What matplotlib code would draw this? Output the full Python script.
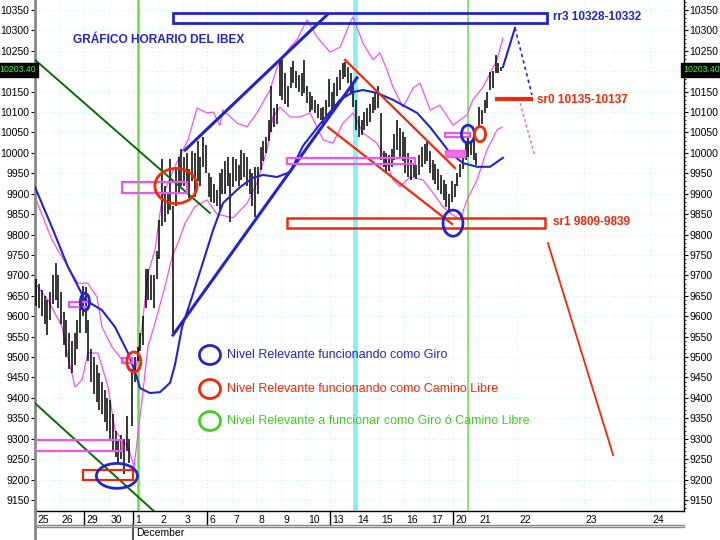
import matplotlib
matplotlib.use('Agg')
import matplotlib.pyplot as plt
import matplotlib.transforms as mtransforms
from matplotlib.patches import Ellipse, Rectangle
from matplotlib.ticker import MultipleLocator, FuncFormatter

NARROW = ['Liberation Sans Narrow', 'Liberation Sans', 'DejaVu Sans']
REG = ['Liberation Sans', 'DejaVu Sans']

# sessions (9 hourly bars each)
sessions = ['25', '26', '29', '30', '1', '2', '3', '6', '7', '8', '9', '10',
            '13', '14', '15', '16', '17', '20', '21']
future_days = ['22', '23', '24']

highs = [
    [9690, 9680, 9665, 9650, 9640, 9660, 9700, 9730, 9700],
    [9660, 9610, 9590, 9560, 9540, 9560, 9590, 9640, 9675],
    [9672, 9590, 9520, 9500, 9480, 9460, 9440, 9420, 9400],
    [9395, 9360, 9320, 9300, 9310, 9300, 9355, 9300, 9470],
    [9500, 9525, 9560, 9600, 9715, 9715, 9700, 9700, 9760],
    [9835, 9985, 9920, 9900, 9985, 9870, 9960, 9990, 10010],
    [9990, 10000, 9960, 10005, 10000, 10030, 9990, 10040, 10020],
    [9950, 9940, 9925, 9910, 9950, 9960, 9980, 9990, 9950],
    [9990, 9985, 9970, 10006, 10000, 9990, 9960, 9950, 9965],
    [9965, 10014, 10030, 10040, 10080, 10163, 10110, 10120, 10228],
    [10228, 10195, 10163, 10210, 10225, 10200, 10190, 10195, 10228],
    [10163, 10150, 10140, 10130, 10120, 10110, 10112, 10130, 10180],
    [10150, 10170, 10185, 10203, 10220, 10223, 10210, 10195, 10170],
    [10130, 10090, 10080, 10100, 10110, 10120, 10138, 10150, 10163],
    [10097, 10005, 10000, 9995, 10010, 10047, 10080, 10060, 10050],
    [10040, 10000, 9982, 9975, 9970, 9995, 10014, 10022, 10030],
    [10005, 9982, 9974, 9960, 9945, 9933, 9925, 9900, 9930],
    [9925, 9950, 9974, 10000, 10030, 10040, 10030, 10040, 10000],
    [10112, 10105, 10130, 10150, 10198, 10200, 10240, 10220, 10210],
]
lows = [
    [9625, 9620, 9600, 9580, 9555, 9590, 9630, 9640, 9620],
    [9580, 9530, 9500, 9470, 9460, 9480, 9520, 9560, 9600],
    [9560, 9490, 9440, 9410, 9390, 9370, 9360, 9340, 9320],
    [9300, 9270, 9255, 9240, 9250, 9214, 9270, 9240, 9330],
    [9440, 9490, 9515, 9530, 9620, 9640, 9640, 9620, 9690],
    [9740, 9820, 9830, 9850, 9860, 9560, 9870, 9900, 9920],
    [9920, 9900, 9890, 9930, 9893, 9930, 9920, 9966, 9950],
    [9893, 9880, 9877, 9870, 9860, 9900, 9900, 9920, 9830],
    [9917, 9930, 9920, 9933, 9940, 9920, 9900, 9870, 9843],
    [9900, 9958, 9980, 10000, 10030, 10050, 10063, 10070, 10140],
    [10130, 10120, 10112, 10160, 10170, 10160, 10150, 10140, 10147],
    [10122, 10100, 10105, 10097, 10085, 10080, 10063, 10090, 10112],
    [10105, 10110, 10140, 10154, 10180, 10185, 10170, 10147, 10112],
    [10055, 10040, 10045, 10055, 10065, 10075, 10097, 10105, 10110],
    [9982, 9966, 9950, 9955, 9965, 9982, 10006, 9990, 9980],
    [9950, 9941, 9933, 9940, 9935, 9945, 9966, 9974, 9980],
    [9950, 9933, 9925, 9910, 9900, 9884, 9867, 9860, 9880],
    [9893, 9920, 9941, 9960, 9982, 9990, 9995, 9982, 9970],
    [10063, 10070, 10097, 10110, 10154, 10160, 10196, 10195, 10200],
]
last_price = 10203.40

# moving average (session position, price)
ma_day = [0, 0.69, 1.34, 2.03, 2.72, 3.25, 3.78, 4.07, 4.27, 4.67, 5.08, 5.49,
          5.69, 5.98, 6.38, 6.79, 7.24, 7.64, 8.33, 8.86, 9.27, 9.84, 10.37,
          10.89, 11.59, 12.40, 12.93, 13.33, 13.90, 14.55, 15.53, 16.06, 16.46,
          16.87, 17.40, 17.97, 18.50, 18.90, 19.02]
ma_val = [9916, 9818, 9721, 9640, 9615, 9574, 9510, 9463, 9424, 9412, 9414, 9437,
          9481, 9574, 9647, 9725, 9811, 9877, 9916, 9939, 9946, 9941, 9953,
          10017, 10071, 10130, 10149, 10154, 10147, 10130, 10098, 10063, 10032,
          10000, 9975, 9966, 9966, 9983, 9988]

# bollinger-like bands
up_day = [0, 0.69, 0.93, 1.34, 1.75, 2.15, 2.52, 2.72, 3.13, 3.54, 3.94, 4.07,
          4.35, 4.59, 4.88, 5.0, 5.16, 5.28, 5.81, 6.22, 6.59, 6.99, 7.24, 7.52,
          7.64, 8.21, 8.62, 9.02, 9.55, 9.84, 10.08, 10.37, 10.65, 11.06, 11.46,
          11.99, 12.40, 12.80, 12.93, 13.33, 13.74, 14.02, 14.31, 14.55, 14.96,
          15.37, 15.65, 16.06, 16.46, 16.99, 17.56, 17.80, 18.21, 18.78, 19.02]
up_val = [9892, 9787, 9762, 9721, 9681, 9681, 9647, 9574, 9525, 9493, 9468, 9461,
          9574, 9706, 9762, 9818, 9885, 9909, 9983, 10032, 10110, 10098, 10100, 10068,
          10105, 10073, 10064, 10098, 10154, 10210, 10235, 10259, 10277, 10326, 10284,
          10247, 10259, 10318, 10333, 10269, 10228, 10245, 10203, 10161, 10112,
          10159, 10171, 10105, 10117, 10068, 10093, 10130, 10161, 10228, 10281]
lo_day = [0, 0.53, 1.10, 1.34, 1.63, 1.91, 2.15, 2.56, 2.97, 3.25, 3.54, 3.78,
          3.98, 4.02, 4.35, 4.59, 4.88, 5.28, 5.57, 5.81, 6.10, 6.50, 6.99, 7.40,
          8.05, 8.62, 9.02, 9.43, 9.67, 9.96, 10.37, 10.77, 11.18, 11.46, 11.71,
          12.11, 12.52, 12.93, 13.33, 13.90, 14.31, 14.55, 14.84, 15.24, 15.77,
          16.18, 16.59, 16.87, 17.28, 17.56, 17.97, 18.37, 18.78, 18.98]
lo_val = [9681, 9640, 9574, 9500, 9427, 9444, 9510, 9510, 9427, 9321, 9297, 9280,
          9241, 9228, 9395, 9525, 9584, 9672, 9745, 9779, 9828, 9868, 9885, 9850,
          9841, 9877, 9926, 10007, 10088, 10112, 10088, 10088, 10098, 10063, 10032,
          10024, 10073, 10098, 10049, 10024, 9975, 9934, 9917, 9941, 9934,
          9902, 9868, 9853, 9836, 9885, 9934, 10007, 10056, 10063]

# hand drawn analysis: lines as (day0, price0, day1, price1)
blue_trend = [(5.61, 9554, 13.09, 10184), (6.10, 10007, 11.87, 10338)]
red_channel = [(12.60, 10228, 17.07, 9963), (11.91, 10063, 16.95, 9826)]
green_lines = [(0, 10228, 7.11, 9853), (0, 9387, 4.88, 9120)]
proj_blue = ([19.02, 19.51], [10210, 10306])
proj_blue_dot = ([19.51, 20.20], [10306, 10142])
proj_pink_dot = ([19.72, 20.33], [10122, 9990])
proj_red = ([20.85, 23.50], [9779, 9260])

# zones: (day0, day1, low, high)
rr3_zone = (5.61, 20.81, 10318, 10343)
sr1_zone = (10.24, 20.73, 9816, 9841)
sr0_line = (18.78, 20.16, 10132)
pink_boxes = [(3.54, 6.18, 9902, 9929), (0, 3.54, 9270, 9297), (1.38, 2.20, 9623, 9635),
              (3.54, 3.94, 9486, 9498), (10.24, 15.45, 9973, 9988), (16.67, 17.68, 10039, 10049)]
pink_fill = (16.67, 17.48, 9990, 10007)
red_box = (1.95, 3.98, 9199, 9223)
# circles: (day, price, width, height, colour)
circles = [(5.73, 9919, 1.71, 86, 'red'), (3.33, 9209, 1.67, 61, 'blue'),
           (2.03, 9635, 0.37, 42, 'blue'), (4.02, 9488, 0.57, 49, 'red'),
           (16.99, 9828, 0.81, 64, 'blue'), (17.60, 10046, 0.53, 44, 'blue'),
           (18.09, 10046, 0.45, 37, 'red')]
vlines_green = [4.19, 17.6]
vline_cyan = 13.0

BLUE = '#2424c8'
RED = '#ee2a0a'
PINK = '#ee55ee'
GREEN = '#44cc22'
COL = {'red': RED, 'blue': BLUE}

fig = plt.figure(figsize=(7.2, 5.4), dpi=100)
ax = fig.add_axes([35 / 720, 29 / 540, 649 / 720, 511 / 540])
ax.set_facecolor('white')
ax.set_xlim(0, 26.38)
ax.set_ylim(9123, 10374.5)

# verticals
for v in vlines_green:
    ax.axvline(v, color='#66e044', lw=1.8 if v < 10 else 1.1, zorder=1)
ax.axvline(vline_cyan, color='#8cefef', lw=3.5, zorder=1)

# bands and average
ax.plot(up_day, up_val, color=PINK, lw=0.9, zorder=2)
ax.plot(lo_day, lo_val, color=PINK, lw=0.9, zorder=2)
ax.plot(ma_day, ma_val, color=BLUE, lw=1.5, zorder=4)

# bars
bx, bh, bl = [], [], []
for d in range(len(highs)):
    for i in range(9):
        bx.append(d + (i + 0.5) / 9)
        bh.append(highs[d][i])
        bl.append(lows[d][i])
ax.vlines(bx, bl, bh, color='black', lw=1.1, zorder=3)

# analysis lines
for x0, y0, x1, y1 in blue_trend:
    ax.plot([x0, x1], [y0, y1], color=BLUE, lw=2.2, zorder=5)
for x0, y0, x1, y1 in red_channel:
    ax.plot([x0, x1], [y0, y1], color=RED, lw=1.6, zorder=5)
for x0, y0, x1, y1 in green_lines:
    ax.plot([x0, x1], [y0, y1], color='#0a6a0a', lw=1.4, zorder=5)
ax.plot(*proj_blue, color=BLUE, lw=1.5, zorder=5)
ax.plot(*proj_blue_dot, color=BLUE, lw=1.2, ls=(0, (2, 2)), zorder=5)
ax.plot(*proj_pink_dot, color=PINK, lw=1.0, ls=(0, (2, 2)), zorder=5)
ax.plot(*proj_red, color=RED, lw=1.3, zorder=5)

# zones
def box(z, ec, lw, fc='none'):
    ax.add_patch(Rectangle((z[0], z[2]), z[1] - z[0], z[3] - z[2], fill=fc != 'none',
                           facecolor=fc, edgecolor=ec, lw=lw, zorder=6))

box(rr3_zone, BLUE, 2.0)
box(sr1_zone, RED, 1.8)
box(red_box, RED, 1.6)
for b in pink_boxes:
    box(b, PINK, 1.6)
box(pink_fill, PINK, 1.0, fc='#f070e0')
ax.plot(sr0_line[:2], [sr0_line[2]] * 2, color=RED, lw=3, zorder=6)

for cx, cy, w, h, c in circles:
    ax.add_patch(Ellipse((cx, cy), w, h, fill=False, ec=COL[c], lw=2, zorder=7))

# texts
ax.text(0.0586, 0.9217, 'GRÁFICO HORARIO DEL IBEX', transform=ax.transAxes, color=BLUE,
        fontsize=8.6, fontweight='bold', family=NARROW, va='center')
ax.text(0.798, 0.9667, 'rr3 10328-10332', transform=ax.transAxes, color=BLUE,
        fontsize=8.5, fontweight='bold', family=NARROW, va='center')
ax.text(0.7735, 0.804, 'sr0 10135-10137', transform=ax.transAxes, color=RED,
        fontsize=8.5, fontweight='bold', family=NARROW, va='center')
ax.text(0.798, 0.5656, 'sr1 9809-9839', transform=ax.transAxes, color=RED,
        fontsize=8.5, fontweight='bold', family=NARROW, va='center')

legend_items = [('Nivel Relevante funcionando como Giro', BLUE, 0.3053),
                ('Nivel Relevante funcionando como Camino Libre', RED, 0.2387),
                ('Nivel Relevante a funcionar como Giro ó Camino Libre', GREEN, 0.1761)]
for txt, c, yy in legend_items:
    ax.add_patch(Ellipse((0.2696, yy), 0.0324, 0.0372, transform=ax.transAxes,
                         fill=False, ec=c, lw=2, zorder=7))
    ax.text(0.2958, yy, txt, transform=ax.transAxes, color=c, fontsize=9,
            family=NARROW, va='center')

# axes styling
ax.yaxis.set_major_locator(MultipleLocator(50))
ax.yaxis.set_minor_locator(MultipleLocator(10))
ax.yaxis.set_major_formatter(FuncFormatter(lambda v, p: '' if abs(v - 10200) < 1 else '%d' % v))
ax.tick_params(axis='y', which='major', left=True, right=True, labelleft=True,
               labelright=True, direction='out', length=3, pad=1, labelsize=7.5)
ax.tick_params(axis='y', which='minor', left=False, right=True, direction='out', length=1.5)
for lab in ax.get_yticklabels():
    lab.set_family(REG)

day_pos = list(range(len(sessions))) + [19.6, 22.3, 25.0]
ax.set_xticks(day_pos)
ax.set_xticklabels(sessions + future_days, ha='left', fontsize=7.5, family=REG)
ax.tick_params(axis='x', length=0, pad=3)
shift = mtransforms.ScaledTranslation(1.5 / 72, 0, fig.dpi_scale_trans)
for lab in ax.get_xticklabels():
    lab.set_transform(lab.get_transform() + shift)

ax.grid(True, color='#c4eeee', ls=(0, (1, 3)), lw=0.7)
ax.set_axisbelow(True)

ax.spines['top'].set_visible(False)
ax.spines['left'].set_color('#888888')
ax.spines['left'].set_linewidth(2)
ax.spines['right'].set_linewidth(1)
ax.spines['bottom'].set_linewidth(1)

# week separators in the date strip
trans = ax.get_xaxis_transform()
for sep in [2, 4, 7, 12, 17]:
    ax.plot([sep, sep], [0, -0.028], color='black', lw=1, transform=trans, clip_on=False)
ax.plot([4, 4], [-0.028, -0.06], color='#555555', lw=1.5, transform=trans, clip_on=False)
fig.add_artist(plt.Line2D([35 / 720, 684 / 720], [15 / 540, 15 / 540], color='#888888', lw=1))
fig.add_artist(plt.Line2D([35 / 720, 684 / 720], [13 / 540, 13 / 540], color='#888888', lw=1))
fig.add_artist(plt.Line2D([35 / 720, 35 / 720], [0, 29 / 540], color='#888888', lw=2))
fig.text(136 / 720, 7 / 540, 'December', fontsize=7.5, family=REG, va='center')

# last price boxes
for xx in [-0.027, 1.027]:
    ax.annotate('10203.40', xy=(xx, last_price), xycoords=('axes fraction', 'data'),
                ha='center', va='center', fontsize=6.3, family=NARROW, color='#33ff33',
                bbox=dict(boxstyle='square,pad=0.3', fc='black', ec='black'),
                annotation_clip=False, zorder=10)

fig.savefig('out.png', dpi=100)
